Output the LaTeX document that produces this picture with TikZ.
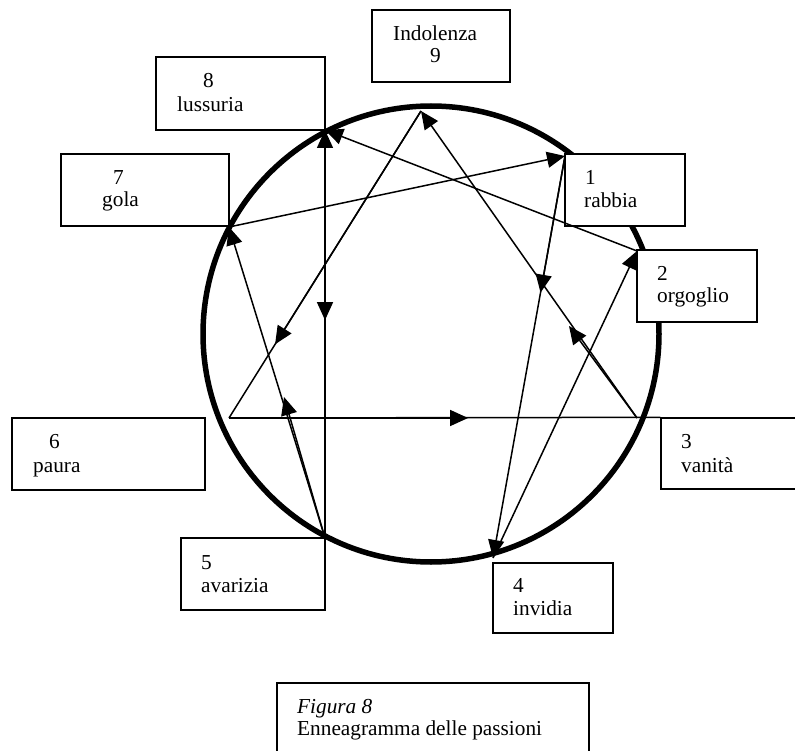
\documentclass[tikz,border=0pt]{standalone}
\usepackage{fontspec}
\setmainfont{Liberation Serif}
\usetikzlibrary{arrows.meta,calc,fit}
\begin{document}
\begin{tikzpicture}[x=1pt,y=-1pt,
  box/.style={draw,line width=1.3pt,fill=white,rectangle,inner sep=0pt},
  lbl/.style={anchor=base west,inner sep=0pt,font=\fontsize{21.3}{24}\selectfont},
  conn/.style={line width=1.5pt},
  tip/.style={-{Triangle[length=18pt,width=16pt]}},
  ring/.style={line width=5.5pt},
]
\useasboundingbox (0,0) rectangle (795,751);
\fill[white] (0,0) rectangle (795,751);

% circle
\node[ring,draw,circle,minimum size=456pt,inner sep=0pt] (ring) at (431,334) {};

% points
\coordinate (p9) at (421,111);
\coordinate (p8) at (325,130);
\coordinate (p1) at (565,156);
\coordinate (p7) at (229,227);
\coordinate (p2) at (637,251);
\coordinate (p6) at (229,418);
\coordinate (p3) at (637,418);
\coordinate (p5) at (325,538);
\coordinate (p4) at (493,558);
\coordinate (m39) at (569,326);
\coordinate (m57) at (284,397);

% boxes
\node[box,fit={(372,10) (510,82)}] (b9) {};
\node[box,fit={(156,57) (325,130)}] (b8) {};
\node[box,fit={(61,154) (229,226)}] (b7) {};
\node[box,fit={(565,154) (685,226)}] (b1) {};
\node[box,fit={(637,250) (757,322)}] (b2) {};
\node[box,fit={(12,418) (205,490)}] (b6) {};
\node[box,fit={(661,418) (802,489)}] (b3) {};
\node[box,fit={(181,538) (325,610)}] (b5) {};
\node[box,fit={(493,563) (613,633)}] (b4) {};
\node[box,fit={(277,683) (589,756)}] (bf) {};

% triangle 9-6-3
\draw[conn] (p6) -- (b3.north west);
\draw[conn,tip] (p6) -- ($(p6)!0.586!(p3)$);
\draw[conn] (p9) -- (p6);
\draw[conn,tip] (p9) -- ($(p9)!0.76!(p6)$);
\draw[conn,tip] (p3) -- (p9);
\draw[conn,tip] (p3) -- (m39);

% hexad 1-4-2-8-5-7-1
\draw[conn,tip] (p1) -- (p4);
\draw[conn,tip] (p1) -- ($(p1)!0.34!(p4)$);
\draw[conn,tip] (p4) -- (p2);
\draw[conn,tip] (p2) -- (p8);
\draw[conn,tip] (p5) -- (p8);
\draw[conn,tip] (p8) -- ($(p8)!0.466!(p5)$);
\draw[conn,tip] (p5) -- (p7);
\draw[conn,tip] (p5) -- (m57);
\draw[conn,tip] (p7) -- (p1);

% labels
\node[lbl] (t9a) at (393,41) {Indolenza};
\node[lbl] (t9b) at (430,63) {9};
\node[lbl] (t8a) at (203,88) {8};
\node[lbl] (t8b) at (177,112) {lussuria};
\node[lbl] (t7a) at (113,185) {7};
\node[lbl] (t7b) at (102,207) {gola};
\node[lbl] (t1a) at (585,185) {1};
\node[lbl] (t1b) at (584,208) {rabbia};
\node[lbl] (t2a) at (657,280) {2};
\node[lbl] (t2b) at (657,303) {orgoglio};
\node[lbl] (t6a) at (49,448) {6};
\node[lbl] (t6b) at (33,472) {paura};
\node[lbl] (t3a) at (681,448) {3};
\node[lbl] (t3b) at (681,472) {vanità};
\node[lbl] (t5a) at (201,569) {5};
\node[lbl] (t5b) at (201,592) {avarizia};
\node[lbl] (t4a) at (513,592) {4};
\node[lbl] (t4b) at (513,615) {invidia};
\node[lbl] (tfa) at (297,713) {\itshape Figura 8};
\node[lbl] (tfb) at (297,735) {Enneagramma delle passioni};
\end{tikzpicture}
\end{document}
